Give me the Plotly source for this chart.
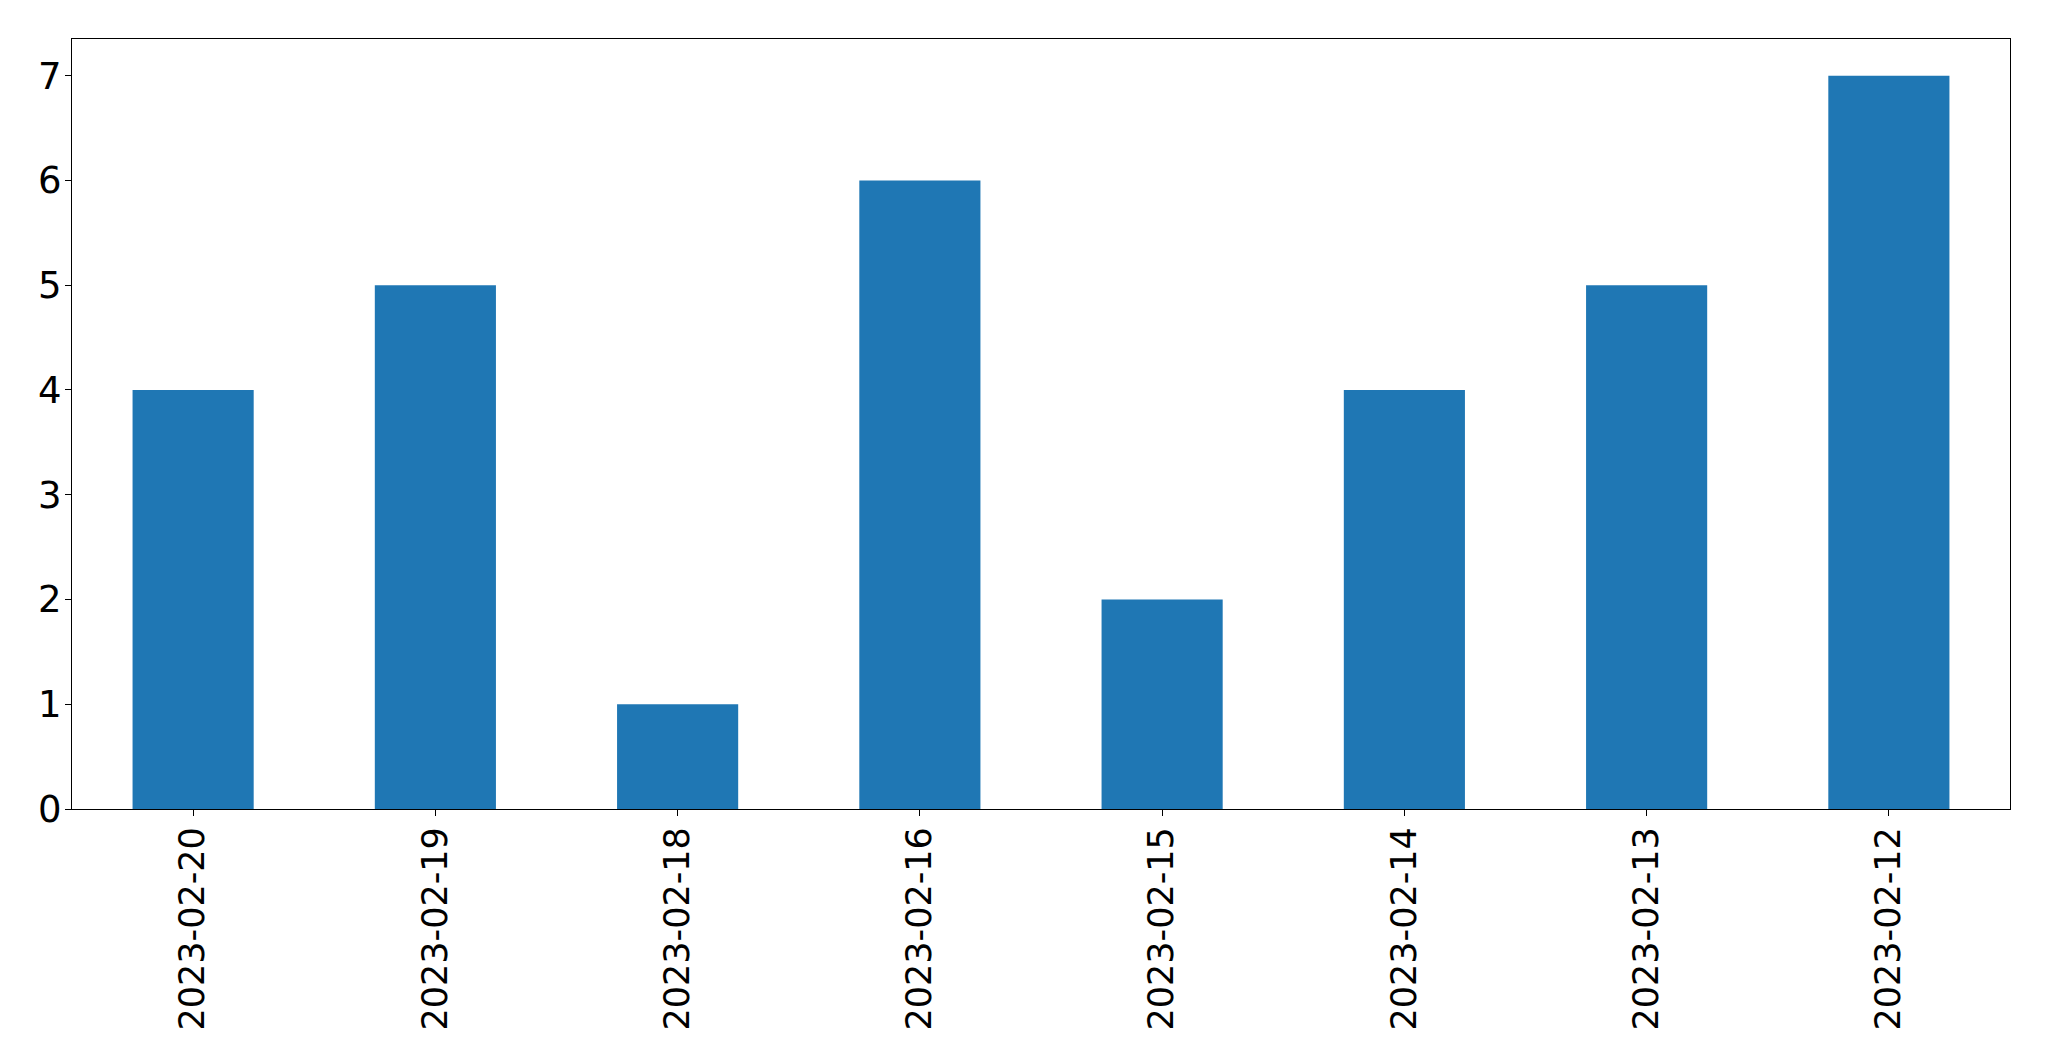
import plotly.graph_objects as go

dates = ["2023-02-20", "2023-02-19", "2023-02-18", "2023-02-16",
         "2023-02-15", "2023-02-14", "2023-02-13", "2023-02-12"]
counts = [4, 5, 1, 6, 2, 4, 5, 7]
y_ticks = [0, 1, 2, 3, 4, 5, 6, 7]

fig = go.Figure(go.Bar(x=dates, y=counts, width=0.5, marker_color="#1f77b4",
                       marker_line_width=0))

xfont = dict(family="DejaVu Sans", size=35, color="black")
yfont = dict(family="DejaVu Sans", size=37, color="black")
# page body adds an 8px offset, so the figure is sized to fit within the window
fig.update_layout(
    width=2041, height=1053,
    margin=dict(l=64, r=39, t=31, b=252, pad=0),
    plot_bgcolor="white", paper_bgcolor="white",
    showlegend=False,
    font=xfont,
)
fig.update_xaxes(type="category", range=[-0.5, 7.5], tickangle=-90,
                 automargin=False,
                 showline=True, linecolor="black", linewidth=1.3, mirror=True,
                 ticks="outside", ticklen=6, tickwidth=1.3, tickcolor="black",
                 showgrid=False, zeroline=False, tickfont=xfont,
                 ticklabelstandoff=-3)
fig.update_yaxes(range=[0, 7.35], tickvals=y_ticks, automargin=False,
                 showline=True, linecolor="black", linewidth=1.3, mirror=True,
                 ticks="outside", ticklen=6, tickwidth=1.3, tickcolor="black",
                 showgrid=False, zeroline=False, tickfont=yfont,
                 ticklabelstandoff=-4)
fig.write_html("out.html")
